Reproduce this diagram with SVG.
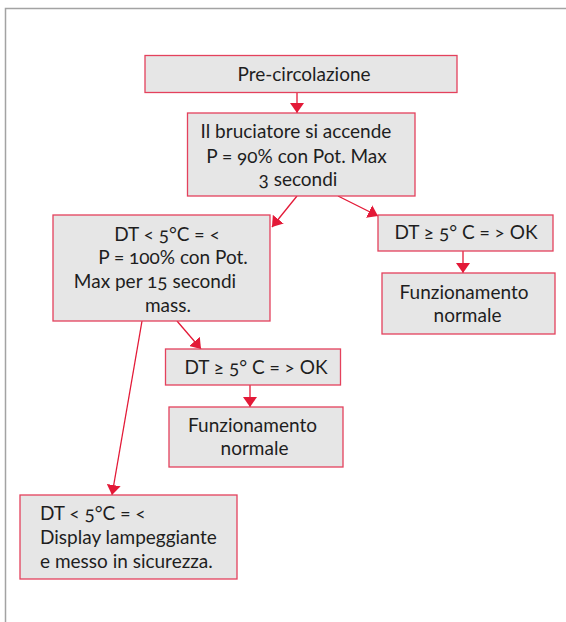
<svg xmlns="http://www.w3.org/2000/svg" width="566" height="622" viewBox="0 0 566 622">
<style>
.box{fill:#e6e6e6;stroke:#e4415c;stroke-width:1.3}
.t{font-family:Lato,"Open Sans","Liberation Sans",sans-serif;font-size:19px;fill:#1e1e1e;font-variant-numeric:oldstyle-nums}
.m{text-anchor:middle}
.c{stroke:#e31937;stroke-width:1.3;fill:none;marker-end:url(#ah)}
</style>
<defs>
<marker id="ah" markerUnits="userSpaceOnUse" markerWidth="10" markerHeight="14" viewBox="0 0 10 14" refX="10" refY="7" orient="auto">
<path d="M0,0 L10,7 L0,14 z" fill="#e31937"/>
</marker>
</defs>
<rect width="566" height="622" fill="#fff"/>
<path d="M5.5,622 V8.5 H566" fill="none" stroke="#a3a3a3" stroke-width="1.5"/>
<g id="connectors">
<line class="c" x1="297" y1="93" x2="297" y2="113"/>
<line class="c" x1="297" y1="196" x2="272" y2="227"/>
<line class="c" x1="338" y1="196" x2="378" y2="216"/>
<line class="c" x1="463" y1="251" x2="463" y2="273"/>
<line class="c" x1="177" y1="321" x2="201" y2="349"/>
<line class="c" x1="250" y1="385" x2="250" y2="407"/>
<line class="c" x1="142" y1="321" x2="112" y2="495"/>
</g>
<g id="n1">
<rect class="box" x="145" y="55.5" width="312" height="37"/>
<text class="t m" x="304" y="81">Pre-circolazione</text>
</g>
<g id="n2">
<rect class="box" x="187.5" y="113" width="227.5" height="83"/>
<text class="t m" x="296" y="138">Il bruciatore si accende</text>
<text class="t m" x="296.5" y="162.5">P = 90% con Pot. Max</text>
<text class="t m" x="298" y="186">3 secondi</text>
</g>
<g id="n3">
<rect class="box" x="53" y="215" width="217" height="106"/>
<text class="t m" x="167" y="241">DT &lt; 5°C = &lt;</text>
<text class="t m" x="173" y="264">P = 100% con Pot.</text>
<text class="t m" x="155" y="288">Max per 15 secondi</text>
<text class="t m" x="168" y="311.5">mass.</text>
</g>
<g id="n4">
<rect class="box" x="378" y="215" width="175" height="36"/>
<text class="t m" x="466" y="239">DT ≥ 5° C = &gt; OK</text>
</g>
<g id="n5">
<rect class="box" x="382" y="273" width="173" height="61"/>
<text class="t m" x="464" y="299">Funzionamento</text>
<text class="t m" x="467.5" y="322">normale</text>
</g>
<g id="n6">
<rect class="box" x="165.5" y="349" width="175" height="36"/>
<text class="t m" x="256" y="374">DT ≥ 5° C = &gt; OK</text>
</g>
<g id="n7">
<rect class="box" x="169" y="407" width="174" height="60"/>
<text class="t m" x="252.5" y="432">Funzionamento</text>
<text class="t m" x="254.5" y="455">normale</text>
</g>
<g id="n8">
<rect class="box" x="20" y="495" width="217" height="84"/>
<text class="t" x="40" y="520">DT &lt; 5°C = &lt;</text>
<text class="t" x="40" y="544">Display lampeggiante</text>
<text class="t" x="40" y="568">e messo in sicurezza.</text>
</g>
</svg>
